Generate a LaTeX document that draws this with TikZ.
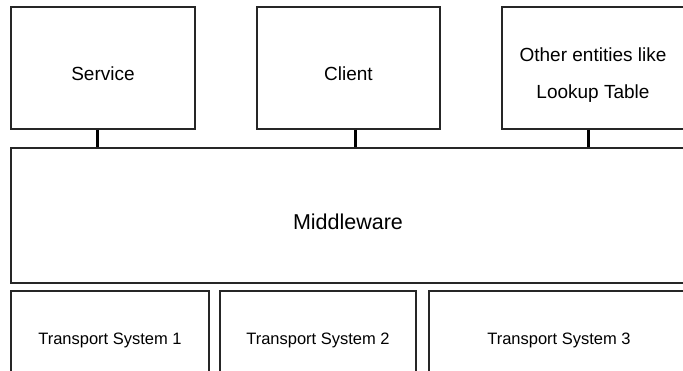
\documentclass[tikz,border=0pt]{standalone}
\usepackage{fontspec}
\setmainfont{Liberation Sans}

\begin{document}
\begin{tikzpicture}[x=1pt, y=-1pt,
    box/.style={draw=black!85, line width=1.2pt, inner sep=0pt, align=center, font=\fontsize{19}{37}\selectfont},
    tbox/.style={box, minimum height=94pt, font=\fontsize{16.5}{20}\selectfont},
    link/.style={line width=3pt}]
    \useasboundingbox (0,0) rectangle (683,371);
    \clip (0,0) rectangle (683,371);

    \node[box, minimum width=184pt, minimum height=122pt] (service) at (103,68) {\raisebox{-13pt}[0pt][0pt]{Service}};
    \node[box, minimum width=183pt, minimum height=122pt] (client) at (348.5,68) {\raisebox{-13pt}[0pt][0pt]{Client}};
    \node[box, minimum width=182pt, minimum height=122pt] (other) at (593,68) {\raisebox{-12.3pt}[0pt][0pt]{Other entities like}\\\raisebox{-12.3pt}[0pt][0pt]{Lookup Table}};
    \node[box, minimum width=674pt, minimum height=135pt, font=\fontsize{21.5}{26}\selectfont] (middleware) at (348,215.5) {\raisebox{-14.5pt}[0pt][0pt]{Middleware}};

    \node[tbox, minimum width=198pt] (ts1) at (110,338) {\raisebox{-6pt}[0pt][0pt]{Transport System 1}};
    \node[tbox, minimum width=196pt] (ts2) at (318,338) {\raisebox{-6pt}[0pt][0pt]{Transport System 2}};
    \node[tbox, minimum width=260pt] (ts3) at (559,338) {\raisebox{-6pt}[0pt][0pt]{Transport System 3}};

    \draw[link] ([xshift=-6pt]service.south) -- ([xshift=-6pt]service.south |- middleware.north);
    \draw[link] ([xshift=6.5pt]client.south) -- ([xshift=6.5pt]client.south |- middleware.north);
    \draw[link] ([xshift=-5pt]other.south) -- ([xshift=-5pt]other.south |- middleware.north);
\end{tikzpicture}
\end{document}
